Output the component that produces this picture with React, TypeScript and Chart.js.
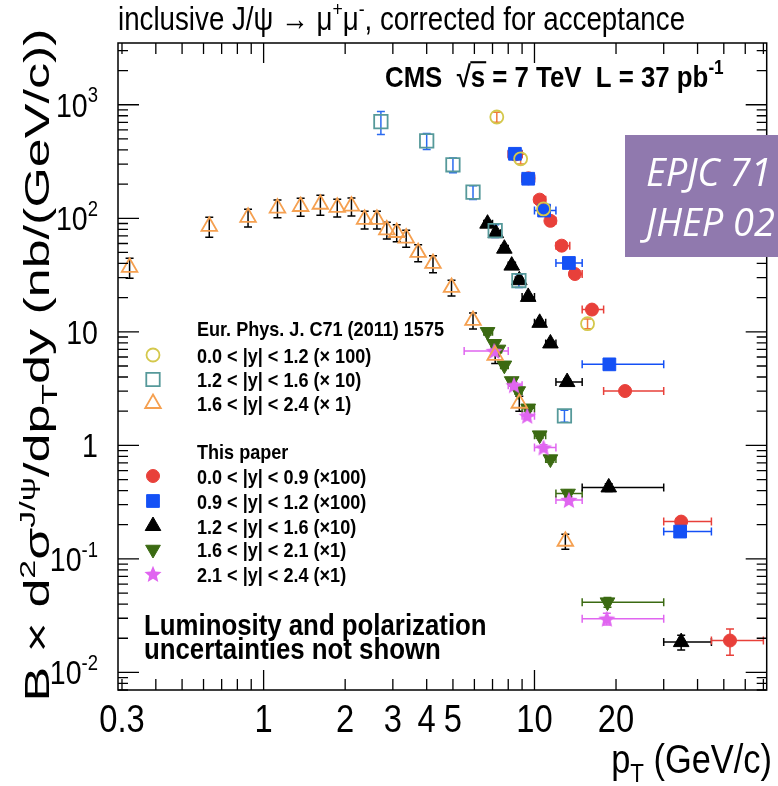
import React, { useEffect, useRef } from 'react';
import { Chart, registerables } from 'chart.js';
Chart.register(...registerables);

// ---------------- DATA ----------------
// Eur. Phys. J. C71 (2011) 1575
const oldCircX = [7.26, 8.89, 10.8, 15.7];
const oldCircY = [780, 334, 121, 11.8];
const oldCircErr = [0.1, 0.1, 0.1, 0.1];

const oldSqX = [2.71, 4.0, 5.0, 5.93, 7.16, 8.76, 12.9];
const oldSqY = [710, 481, 296, 170, 77.8, 28.3, 1.82];
const oldSqErr = [0.23, 0.16, 0.15, 0.14, 0.13, 0.13, 0.12];

const oldTriX = [0.32, 0.63, 0.876, 1.125, 1.37, 1.62, 1.87, 2.11, 2.36, 2.62, 2.85, 3.1, 3.36, 3.72, 4.22, 4.94, 5.93, 7.16, 8.79, 13.0];
const oldTriY = [37, 85, 102, 123, 127, 133, 125, 128, 98, 98, 79, 75, 67, 50, 40, 24.6, 12.6, 6.2, 2.35, 0.143];
const oldTriErr = [0.2, 0.2, 0.18, 0.18, 0.18, 0.2, 0.18, 0.18, 0.18, 0.18, 0.17, 0.17, 0.17, 0.17, 0.17, 0.16, 0.16, 0.15, 0.15, 0.15];

// This paper
const redX = [8.5, 9.5, 10.45, 11.45, 12.6, 14.1, 16.3, 21.6, 34.8, 52.7];
const redY = [365, 225, 146, 95, 57.4, 32.3, 15.7, 3.01, 0.213, 0.0191];
const redXLo = [8, 9, 10, 11, 12, 13.5, 15, 18, 30, 45];
const redXHi = [9, 10, 11, 12, 13.5, 15, 18, 30, 45, 70];
const redErr = [0.04, 0.04, 0.04, 0.04, 0.04, 0.05, 0.05, 0.06, 0.08, 0.26];

const blueX = [8.47, 9.48, 10.85, 13.4, 18.9, 34.5];
const blueY = [370, 223, 117, 40.4, 5.17, 0.174];
const blueXLo = [8, 9, 10, 12, 15, 30];
const blueXHi = [9, 10, 12, 15, 30, 45];
const blueErr = [0.04, 0.04, 0.04, 0.05, 0.06, 0.1];

const blackX = [6.71, 7.2, 7.74, 8.24, 8.79, 9.48, 10.45, 11.45, 13.2, 18.8, 34.8];
const blackY = [89.7, 74, 54, 38.3, 28.5, 20.3, 12.0, 7.9, 3.61, 0.426, 0.0185];
const blackXLo = [6.5, 7, 7.5, 8, 8.5, 9, 10, 11, 12, 15, 30];
const blackXHi = [7, 7.5, 8, 8.5, 9, 10, 11, 12, 15, 30, 45];
const blackErr = [0.05, 0.05, 0.05, 0.05, 0.05, 0.05, 0.05, 0.05, 0.06, 0.08, 0.15];

const greenX = [6.71, 7.1, 7.36, 7.74, 8.24, 8.71, 9.48, 10.45, 11.45, 13.3, 18.6];
const greenY = [10.0, 7.85, 7.0, 5.07, 3.69, 3.01, 2.12, 1.23, 0.757, 0.377, 0.0416];
const greenXLo = [6.5, 7, 7.25, 7.5, 8, 8.5, 9, 10, 11, 12, 15];
const greenXHi = [7, 7.25, 7.5, 8, 8.5, 9, 10, 11, 12, 15, 30];
const greenErr = [0.06, 0.06, 0.06, 0.06, 0.06, 0.06, 0.06, 0.06, 0.06, 0.07, 0.1];

const magX = [7.1, 8.4, 9.4, 10.8, 13.4, 18.5];
const magY = [6.77, 3.38, 1.82, 0.957, 0.33, 0.0297];
const magXLo = [5.5, 8, 9, 10, 12, 15];
const magXHi = [8, 9, 10, 12, 15, 30];
const magErr = [0.06, 0.06, 0.06, 0.06, 0.07, 0.12];

// Axis ticks / labels
const xTickValues = [0.3, 1, 2, 3, 4, 5, 10, 20];
const xTickLabels = ['0.3', '1', '2', '3', '4', '5', '10', '20'];
const yTickValues = [0.01, 0.1, 1, 10, 100, 1000];
const yTickBase = ['10', '10', '1', '10', '10', '10'];
const yTickExp = ['-2', '-1', '', '', '2', '3'];

const legendHeaderOld = 'Eur. Phys. J. C71 (2011) 1575';
const legendOld = ['0.0 < |y| < 1.2 (\u00d7 100)', '1.2 < |y| < 1.6 (\u00d7 10)', '1.6 < |y| < 2.4 (\u00d7 1)'];
const legendHeaderNew = 'This paper';
const legendNew = ['0.0 < |y| < 0.9 (\u00d7100)', '0.9 < |y| < 1.2 (\u00d7100)', '1.2 < |y| < 1.6 (\u00d710)', '1.6 < |y| < 2.1 (\u00d71)', '2.1 < |y| < 2.4 (\u00d71)'];

// ---------------- HELPERS ----------------
type Seg = { t: string; sup?: boolean; sub?: boolean; over?: boolean };
const FAM = '"Liberation Sans", Arial, Helvetica, sans-serif';

function drawRich(ctx: CanvasRenderingContext2D, segs: Seg[], x: number, y: number, size: number,
  opt: { weight?: string; style?: string; family?: string; align?: string; sx?: number; sy?: number; rot?: number; color?: string } = {}) {
  const fam = opt.family ?? FAM;
  const wt = opt.weight ?? 'normal';
  const st = opt.style ?? 'normal';
  const fontFor = (s: Seg) => `${st} ${wt} ${s.sup || s.sub ? Math.round(size * 0.65) : size}px ${fam}`;
  let total = 0;
  const widths = segs.map((s) => { ctx.font = fontFor(s); const w = ctx.measureText(s.t).width; total += w; return w; });
  ctx.save();
  ctx.translate(x, y);
  if (opt.rot) ctx.rotate(opt.rot);
  ctx.scale(opt.sx ?? 1, opt.sy ?? 1);
  let cx = opt.align === 'center' ? -total / 2 : opt.align === 'right' ? -total : 0;
  ctx.fillStyle = opt.color ?? '#000';
  ctx.textBaseline = 'alphabetic';
  ctx.textAlign = 'left';
  segs.forEach((s, i) => {
    ctx.font = fontFor(s);
    const dy = s.sup ? -size * 0.42 : s.sub ? size * 0.22 : 0;
    ctx.fillText(s.t, cx, dy);
    if (s.over) ctx.fillRect(cx - size * 0.02, -size * 0.86, widths[i] + size * 0.06, Math.max(1.5, size * 0.07));
    cx += widths[i];
  });
  ctx.restore();
}

function makeStar(r: number, color: string) {
  const c = document.createElement('canvas');
  const s = Math.ceil(r * 2 + 2);
  c.width = s; c.height = s;
  const g = c.getContext('2d')!;
  g.translate(s / 2, s / 2 + 0.8);
  g.beginPath();
  for (let i = 0; i < 10; i++) {
    const rr = i % 2 === 0 ? r : r * 0.45;
    const a = -Math.PI / 2 + (i * Math.PI) / 5;
    g.lineTo(rr * Math.cos(a), rr * Math.sin(a));
  }
  g.closePath();
  g.fillStyle = color;
  g.fill();
  return c;
}

function drawMarker(ctx: CanvasRenderingContext2D, ds: any, x: number, y: number) {
  const r = ds.pointRadius;
  const st = ds.pointStyle;
  ctx.save();
  if (typeof st !== 'string') {
    ctx.drawImage(st, x - st.width / 2, y - st.height / 2);
    ctx.restore();
    return;
  }
  ctx.translate(x, y);
  if (ds.rotation) ctx.rotate((ds.rotation * Math.PI) / 180);
  ctx.beginPath();
  if (st === 'circle') ctx.arc(0, 0, r, 0, Math.PI * 2);
  else if (st === 'rect') { const s = r * Math.SQRT1_2; ctx.rect(-s, -s, 2 * s, 2 * s); }
  else if (st === 'triangle') {
    for (let k = 0; k < 3; k++) { const a = (k * 2 * Math.PI) / 3; ctx.lineTo(r * Math.sin(a), -r * Math.cos(a)); }
    ctx.closePath();
  }
  ctx.fillStyle = ds.backgroundColor;
  ctx.fill();
  ctx.lineWidth = ds.borderWidth;
  ctx.strokeStyle = ds.borderColor;
  ctx.stroke();
  ctx.restore();
}

const pts = (xs: number[], ys: number[]) => xs.map((x, i) => ({ x, y: ys[i] }));

const errorBars = {
  id: 'errorBars',
  beforeDatasetsDraw(chart: any) {
    const ctx: CanvasRenderingContext2D = chart.ctx;
    const xs = chart.scales.x, ys = chart.scales.y, a = chart.chartArea;
    ctx.save();
    ctx.beginPath();
    ctx.rect(a.left, a.top, a.right - a.left, a.bottom - a.top);
    ctx.clip();
    chart.data.datasets.forEach((ds: any) => {
      const e = ds.err;
      if (!e) return;
      ctx.strokeStyle = e.color;
      ctx.lineWidth = 1.5;
      ds.data.forEach((p: any, i: number) => {
        const px = xs.getPixelForValue(p.x), py = ys.getPixelForValue(p.y);
        ctx.beginPath();
        if (e.xLo) {
          const l = xs.getPixelForValue(e.xLo[i]), r = xs.getPixelForValue(e.xHi[i]);
          ctx.moveTo(l, py); ctx.lineTo(r, py);
          ctx.moveTo(l, py - 4); ctx.lineTo(l, py + 4);
          ctx.moveTo(r, py - 4); ctx.lineTo(r, py + 4);
        }
        if (e.yRel) {
          const t = ys.getPixelForValue(p.y * (1 + e.yRel[i])), b = ys.getPixelForValue(p.y * (1 - e.yRel[i]));
          ctx.moveTo(px, t); ctx.lineTo(px, b);
          ctx.moveTo(px - 4, t); ctx.lineTo(px + 4, t);
          ctx.moveTo(px - 4, b); ctx.lineTo(px + 4, b);
        }
        ctx.stroke();
      });
    });
    ctx.restore();
  },
};

const decor = {
  id: 'decor',
  afterDraw(chart: any) {
    const ctx: CanvasRenderingContext2D = chart.ctx;
    const xs = chart.scales.x, ys = chart.scales.y, a = chart.chartArea;
    ctx.save();
    // frame
    ctx.strokeStyle = '#000';
    ctx.lineWidth = 1.5;
    ctx.strokeRect(a.left, a.top, a.right - a.left, a.bottom - a.top);
    // ticks
    ctx.lineWidth = 1.3;
    ctx.beginPath();
    for (let d = -3; d <= 3; d++) {
      for (let k = 1; k <= 9; k++) {
        const v = k * Math.pow(10, d);
        if (v < ys.min || v > ys.max) continue;
        const py = ys.getPixelForValue(v);
        const len = k === 1 ? 21 : 10;
        ctx.moveTo(a.left, py); ctx.lineTo(a.left + len, py);
        ctx.moveTo(a.right, py); ctx.lineTo(a.right - len, py);
      }
      for (let k = 1; k <= 9; k++) {
        const v = k * Math.pow(10, d);
        if (v < xs.min || v > xs.max) continue;
        const px = xs.getPixelForValue(v);
        const len = k === 1 ? 20 : 11;
        ctx.moveTo(px, a.bottom); ctx.lineTo(px, a.bottom - len);
        ctx.moveTo(px, a.top); ctx.lineTo(px, a.top + len);
      }
    }
    ctx.stroke();

    // x tick labels
    xTickValues.forEach((v, i) => {
      drawRich(ctx, [{ t: xTickLabels[i] }], xs.getPixelForValue(v), 732, 38, { align: 'center', sx: 0.86 });
    });
    // y tick labels
    yTickValues.forEach((v, i) => {
      const py = ys.getPixelForValue(v);
      const segs: Seg[] = [{ t: yTickBase[i] }];
      if (yTickExp[i]) segs.push({ t: yTickExp[i], sup: true });
      drawRich(ctx, segs, 98, py + 12, 34, { align: 'right', sx: 0.84 });
    });
    // axis titles
    drawRich(ctx, [{ t: 'p' }, { t: 'T', sub: true }, { t: ' (GeV/c)' }], 772, 773, 40, { align: 'right', sx: 0.86 });
    drawRich(ctx, [{ t: 'B \u00d7 d' }, { t: '2', sup: true }, { t: '\u03c3' }, { t: 'J/\u03c8', sup: true }, { t: '/dp' }, { t: 'T', sub: true }, { t: 'dy (nb/(GeV/c))' }],
      49, 365, 52, { align: 'center', rot: -Math.PI / 2, sy: 0.66 });

    // title
    drawRich(ctx, [{ t: 'inclusive J/\u03c8 \u2192 \u03bc' }, { t: '+', sup: true }, { t: '\u03bc' }, { t: '-', sup: true }, { t: ', corrected for acceptance' }],
      118, 30, 33, { sx: 0.84 });
    // CMS label
    drawRich(ctx, [{ t: 'CMS  \u221a' }, { t: 's', over: true }, { t: ' = 7 TeV  L = 37 pb' }, { t: '-1', sup: true }],
      385, 87, 30, { weight: 'bold', sx: 0.86 });

    // legend
    const ds = chart.data.datasets;
    const lx = 153, tx = 197, fs = 21;
    drawRich(ctx, [{ t: legendHeaderOld }], tx, 336, fs, { weight: 'bold', sx: 0.86 });
    const oldYs = [355, 379.5, 403.5];
    legendOld.forEach((t, i) => {
      drawMarker(ctx, ds[i], lx, oldYs[i]);
      drawRich(ctx, [{ t }], tx, oldYs[i] + 7.5, fs, { weight: 'bold', sx: 0.86 });
    });
    drawRich(ctx, [{ t: legendHeaderNew }], tx, 459, fs, { weight: 'bold', sx: 0.86 });
    const newYs = [476, 501, 526, 549.5, 574];
    const newIdx = [7, 6, 5, 4, 3];
    legendNew.forEach((t, i) => {
      drawMarker(ctx, ds[newIdx[i]], lx, newYs[i]);
      drawRich(ctx, [{ t }], tx, newYs[i] + 7.5, fs, { weight: 'bold', sx: 0.86 });
    });

    // note
    drawRich(ctx, [{ t: 'Luminosity and polarization' }], 144, 635, 30, { weight: 'bold', sx: 0.86 });
    drawRich(ctx, [{ t: 'uncertainties not shown' }], 144, 659, 30, { weight: 'bold', sx: 0.86 });

    // overlay box
    ctx.fillStyle = '#9079ae';
    ctx.fillRect(625, 135, 160, 122);
    drawRich(ctx, [{ t: 'EPJC 71' }], 646, 186, 38, { style: 'italic', family: '"Open Sans", Lato, sans-serif', color: '#fff' });
    drawRich(ctx, [{ t: 'JHEP 02' }], 646, 236, 38, { style: 'italic', family: '"Open Sans", Lato, sans-serif', color: '#fff' });
    ctx.restore();
  },
};

export default function App() {
  const ref = useRef<HTMLCanvasElement>(null);
  useEffect(() => {
    document.body.style.margin = '0';
    const star = makeStar(9, '#e065f0');
    const none = 'rgba(0,0,0,0)';
    const chart = new Chart(ref.current!, {
      type: 'scatter',
      data: {
        datasets: [
          { label: 'old0', data: pts(oldCircX, oldCircY), pointStyle: 'circle', pointRadius: 6.5, backgroundColor: none, borderColor: '#d4c84c', borderWidth: 1.8,
            err: { color: '#f07a3a', yRel: oldCircErr } } as any,
          { label: 'old1', data: pts(oldSqX, oldSqY), pointStyle: 'rect', pointRadius: 9.5, backgroundColor: none, borderColor: '#56999a', borderWidth: 1.8,
            err: { color: '#2a6af0', yRel: oldSqErr } } as any,
          { label: 'old2', data: pts(oldTriX, oldTriY), pointStyle: 'triangle', pointRadius: 9, backgroundColor: none, borderColor: '#f5a050', borderWidth: 1.8,
            err: { color: '#000', yRel: oldTriErr } } as any,
          { label: 'mag', data: pts(magX, magY), pointStyle: star, pointRadius: 9, backgroundColor: '#e065f0', borderColor: '#e065f0', borderWidth: 0,
            err: { color: '#e065f0', xLo: magXLo, xHi: magXHi, yRel: magErr } } as any,
          { label: 'green', data: pts(greenX, greenY), pointStyle: 'triangle', rotation: 180, pointRadius: 8.5, backgroundColor: '#3b6a12', borderColor: '#3b6a12', borderWidth: 1,
            err: { color: '#3b6a12', xLo: greenXLo, xHi: greenXHi, yRel: greenErr } } as any,
          { label: 'black', data: pts(blackX, blackY), pointStyle: 'triangle', pointRadius: 9, backgroundColor: '#000', borderColor: '#000', borderWidth: 1,
            err: { color: '#000', xLo: blackXLo, xHi: blackXHi, yRel: blackErr } } as any,
          { label: 'blue', data: pts(blueX, blueY), pointStyle: 'rect', pointRadius: 9, backgroundColor: '#1450f5', borderColor: '#1450f5', borderWidth: 1,
            err: { color: '#1450f5', xLo: blueXLo, xHi: blueXHi, yRel: blueErr } } as any,
          { label: 'red', data: pts(redX, redY), pointStyle: 'circle', pointRadius: 6.5, backgroundColor: '#e8403a', borderColor: '#e8403a', borderWidth: 1,
            err: { color: '#e8403a', xLo: redXLo, xHi: redXHi, yRel: redErr } } as any,
        ],
      },
      options: {
        animation: false,
        responsive: false,
        devicePixelRatio: 1,
        layout: { padding: { left: 118, right: 6, top: 43, bottom: 96 } },
        scales: {
          x: { type: 'logarithmic', min: 0.29, max: 72, display: false },
          y: { type: 'logarithmic', min: 0.007, max: 3500, display: false },
        },
        plugins: { legend: { display: false }, tooltip: { enabled: false } },
      },
      plugins: [errorBars, decor],
    });
    return () => chart.destroy();
  }, []);
  return (
    <div style={{ position: 'fixed', left: 0, top: 0, width: 778, height: 786, background: '#fff' }}>
      <canvas ref={ref} width={778} height={786} style={{ display: 'block', width: 778, height: 786 }} />
    </div>
  );
}
